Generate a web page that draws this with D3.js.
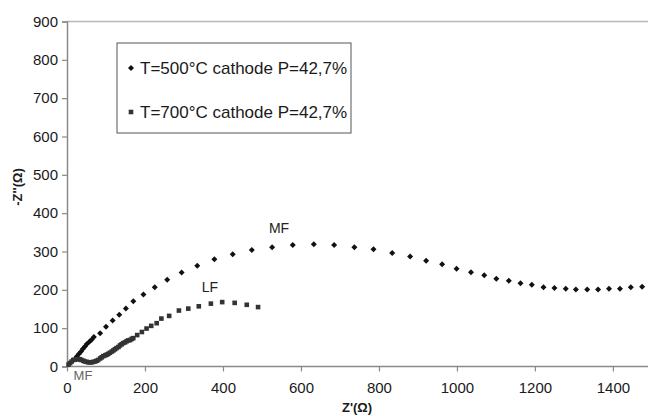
<!DOCTYPE html>
<html>
<head>
<meta charset="utf-8">
<script src="https://cdn.jsdelivr.net/npm/d3@7"></script>
<style>
  body { margin: 0; background: #fff; }
  svg { display: block; font-family: "Liberation Sans", Arial, sans-serif; }
</style>
</head>
<body>
<svg width="648" height="416"></svg>
<script>
// Nyquist plot, cathode P=42,7%
var zre500 = [25, 31, 36, 41, 46, 51, 58, 63, 69, 85, 100, 117, 134, 151, 170, 196, 225, 257, 294, 334, 378, 425, 474, 526, 579, 633, 685, 737, 786, 834, 880, 921, 962, 999, 1036, 1070, 1101, 1133, 1163, 1192, 1222, 1250, 1279, 1305, 1334, 1362, 1390, 1418, 1446, 1475];
var zim500 = [26, 33, 39, 46, 52, 59, 65, 70, 77, 87, 104, 120, 135, 151, 170, 188, 207, 226, 245, 263, 280, 293, 304, 311, 317, 319, 317, 311, 306, 296, 287, 276, 267, 255, 246, 238, 229, 224, 217, 213, 207, 205, 203, 201, 201, 201, 203, 203, 207, 208];

var zre700 = [4, 8, 12, 16, 20, 25, 29, 33, 37, 42, 46, 51, 55, 59, 63, 67, 72, 76, 80, 85, 89, 93, 98, 102, 106, 110, 115, 119, 123, 127, 132, 136, 140, 144, 149, 153, 157, 162, 166, 170, 180, 192, 204, 216, 230, 242, 262, 287, 311, 338, 369, 398, 430, 461, 490];
var zim700 = [5, 9, 13, 17, 18, 19, 19, 19, 17, 15, 13, 12, 11, 11, 11, 12, 13, 15, 17, 21, 24, 27, 29, 31, 33, 36, 39, 42, 45, 48, 51, 55, 58, 61, 63, 66, 68, 69, 72, 74, 82, 90, 99, 106, 113, 125, 132, 146, 151, 157, 164, 168, 166, 161, 155];

var xTicks = [0, 200, 400, 600, 800, 1000, 1200, 1400];
var yTicks = [0, 100, 200, 300, 400, 500, 600, 700, 800, 900];
var seriesNames = ["T=500°C cathode P=42,7%", "T=700°C cathode P=42,7%"];

var svg = d3.select("svg"),
    width = +svg.attr("width"),
    height = +svg.attr("height");

var x = d3.scaleLinear().domain([0, 1490]).range([67, 648]);
var y = d3.scaleLinear().domain([0, 900]).range([366.5, 21.5]);

var axisColor = "#8a8a8a";
var diamondPath = "M0,-3L3,0L0,3L-3,0Z";

// top frame line
svg.append("line")
    .attr("x1", x(0)).attr("x2", width)
    .attr("y1", y(900)).attr("y2", y(900))
    .attr("stroke", "#b8b8b8").attr("stroke-width", 1.5);

var gx = svg.append("g")
    .attr("transform", "translate(0," + y(0) + ")")
    .call(d3.axisBottom(x).tickValues(xTicks).tickSize(5).tickPadding(11).tickFormat(d3.format("d")));
gx.select(".domain").attr("d", "M" + x(0) + ",0H" + width);

var gy = svg.append("g")
    .attr("transform", "translate(" + x(0) + ",0)")
    .call(d3.axisLeft(y).tickValues(yTicks).tickSize(5).tickPadding(4).tickFormat(d3.format("d")));

svg.selectAll(".domain").attr("stroke", axisColor).attr("stroke-width", 1.5);
svg.selectAll(".tick line").attr("stroke", axisColor).attr("stroke-width", 1.2);
svg.selectAll(".tick text")
    .attr("fill", "#1a1a1a")
    .style("font-size", "15px")
    .style("font-family", "Liberation Sans, Arial, sans-serif");

// axis titles
svg.append("text")
    .attr("x", 357).attr("y", 412)
    .attr("text-anchor", "middle")
    .style("font-size", "13px").style("font-weight", "bold")
    .attr("fill", "#1a1a1a")
    .text("Z'(Ω)");

svg.append("text")
    .attr("transform", "translate(22,187) rotate(-90)")
    .attr("text-anchor", "middle")
    .style("font-size", "13px").style("font-weight", "bold")
    .attr("fill", "#1a1a1a")
    .text("-Z''(Ω)");

// 500 C series
svg.append("g").selectAll("path")
    .data(d3.zip(zre500, zim500))
    .enter()
    .append("path")
    .attr("d", diamondPath)
    .attr("transform", function(d) {
        return "translate(" + x(d[0]) + "," + y(d[1]) + ")";
    })
    .attr("fill", "#111");

// 700 C series
svg.append("g").selectAll("rect")
    .data(d3.zip(zre700, zim700))
    .enter()
    .append("rect")
    .attr("x", function(d) { return x(d[0]) - 2.3; })
    .attr("y", function(d) { return y(d[1]) - 2.3; })
    .attr("width", 4.6)
    .attr("height", 4.6)
    .attr("fill", "#333");

// annotations
svg.append("text").attr("x", 279).attr("y", 233)
    .attr("text-anchor", "middle")
    .style("font-size", "14px").attr("fill", "#222").text("MF");
svg.append("text").attr("x", 210).attr("y", 292)
    .attr("text-anchor", "middle")
    .style("font-size", "14px").attr("fill", "#222").text("LF");
svg.append("text").attr("x", 83).attr("y", 380)
    .attr("text-anchor", "middle")
    .style("font-size", "13px").attr("fill", "#666").text("MF");

// legend
var legend = svg.append("g");
legend.append("rect")
    .attr("x", 117).attr("y", 43)
    .attr("width", 234).attr("height", 90)
    .attr("fill", "#fff")
    .attr("stroke", "#555").attr("stroke-width", 1);

var rows = legend.selectAll("g.row")
    .data(seriesNames)
    .enter()
    .append("g")
    .attr("class", "row")
    .attr("transform", function(d, i) { return "translate(0," + (68 + i * 44) + ")"; });

rows.each(function(d, i) {
    var r = d3.select(this);
    if (i === 0) {
        r.append("path").attr("d", diamondPath)
            .attr("transform", "translate(131,0)").attr("fill", "#111");
    } else {
        r.append("rect").attr("x", 128.7).attr("y", -2.3)
            .attr("width", 4.6).attr("height", 4.6).attr("fill", "#333");
    }
    r.append("text")
        .attr("x", 140).attr("y", 6)
        .style("font-size", "17px")
        .attr("fill", "#1a1a1a")
        .text(d);
});
</script>
</body>
</html>
